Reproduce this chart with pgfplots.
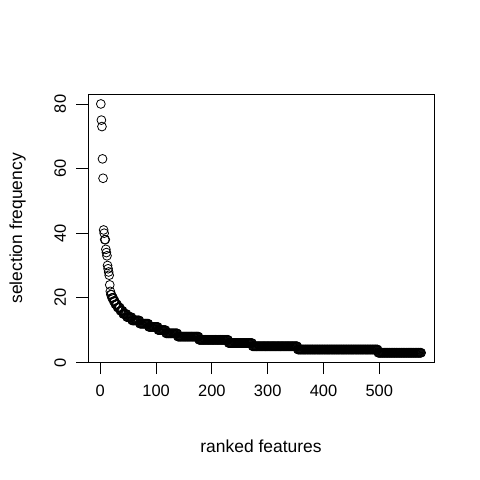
\documentclass[border=0pt]{standalone}
\usepackage{fontspec}
\setmainfont{Liberation Sans}
\usepackage{pgfplots}
\pgfplotsset{compat=1.18}

\begin{document}
\begin{tikzpicture}
\useasboundingbox (0,0) rectangle (480bp,480bp);
\begin{axis}[
  at={(88bp,117.3bp)}, anchor=south west,
  scale only axis,
  width=346bp, height=268.7bp,
  xmin=-22, xmax=598,
  ymin=-0.08, ymax=83.08,
  xtick={0,100,...,500},
  ytick={0,20,...,80},
  xtick pos=bottom, ytick pos=left,
  tick align=outside,
  major tick length=11.5bp,
  axis line style={line width=0.8bp},
  every tick/.style={black, line width=0.8bp},
  /pgf/number format/assume math mode=true,
  ticklabel style={font=\fontsize{16.5}{16.5}\selectfont, inner sep=0pt},
  xticklabel style={anchor=north},
  xticklabel shift=11bp,
  yticklabel style={rotate=90, anchor=base},
  yticklabel shift=10.5bp,
  xlabel={ranked features},
  ylabel={selection frequency},
  every axis x label/.style={at={([yshift=-90bp]axis description cs:0.5,0)}, anchor=base,
    font=\fontsize{17.5}{17.5}\selectfont, inner sep=0pt},
  every axis y label/.style={at={([xshift=-66bp]axis description cs:0,0.5)}, rotate=90, anchor=base,
    font=\fontsize{17.5}{17.5}\selectfont, inner sep=0pt},
]
\addplot[only marks, mark=o, mark size=4.4bp, mark options={line width=0.8bp, black}]
  table[row sep=\\, x expr=\coordindex+1, y=f] {
f\\
80\\ 75\\ 73\\ 63\\ 57\\ 41\\ 40\\ 38\\ 38\\ 35\\ 34\\ 33\\ 30\\ 29\\ 28\\ 27\\ 24\\ 22\\ 21\\ 21\\
20\\ 20\\ 20\\ 19\\ 19\\ 19\\ 18\\ 18\\ 18\\ 18\\ 17\\ 17\\ 17\\ 17\\ 17\\ 16\\ 16\\ 16\\ 16\\ 16\\
15\\ 15\\ 15\\ 15\\ 15\\ 15\\ 15\\ 14\\ 14\\ 14\\ 14\\ 14\\ 14\\ 14\\ 14\\ 14\\ 13\\ 13\\ 13\\ 13\\
13\\ 13\\ 13\\ 13\\ 13\\ 13\\ 13\\ 13\\ 13\\ 13\\ 12\\ 12\\ 12\\ 12\\ 12\\ 12\\ 12\\ 12\\ 12\\ 12\\
12\\ 12\\ 12\\ 12\\ 12\\ 12\\ 11\\ 11\\ 11\\ 11\\ 11\\ 11\\ 11\\ 11\\ 11\\ 11\\ 11\\ 11\\ 11\\ 11\\
11\\ 11\\ 11\\ 10\\ 10\\ 10\\ 10\\ 10\\ 10\\ 10\\ 10\\ 10\\ 10\\ 10\\ 10\\ 10\\ 10\\ 9\\ 9\\ 9\\
9\\ 9\\ 9\\ 9\\ 9\\ 9\\ 9\\ 9\\ 9\\ 9\\ 9\\ 9\\ 9\\ 9\\ 9\\ 9\\ 9\\ 9\\ 8\\ 8\\
8\\ 8\\ 8\\ 8\\ 8\\ 8\\ 8\\ 8\\ 8\\ 8\\ 8\\ 8\\ 8\\ 8\\ 8\\ 8\\ 8\\ 8\\ 8\\ 8\\
8\\ 8\\ 8\\ 8\\ 8\\ 8\\ 8\\ 8\\ 8\\ 8\\ 8\\ 8\\ 8\\ 8\\ 8\\ 8\\ 7\\ 7\\ 7\\ 7\\
7\\ 7\\ 7\\ 7\\ 7\\ 7\\ 7\\ 7\\ 7\\ 7\\ 7\\ 7\\ 7\\ 7\\ 7\\ 7\\ 7\\ 7\\ 7\\ 7\\
7\\ 7\\ 7\\ 7\\ 7\\ 7\\ 7\\ 7\\ 7\\ 7\\ 7\\ 7\\ 7\\ 7\\ 7\\ 7\\ 7\\ 7\\ 7\\ 7\\
7\\ 7\\ 7\\ 7\\ 7\\ 7\\ 7\\ 7\\ 7\\ 6\\ 6\\ 6\\ 6\\ 6\\ 6\\ 6\\ 6\\ 6\\ 6\\ 6\\
6\\ 6\\ 6\\ 6\\ 6\\ 6\\ 6\\ 6\\ 6\\ 6\\ 6\\ 6\\ 6\\ 6\\ 6\\ 6\\ 6\\ 6\\ 6\\ 6\\
6\\ 6\\ 6\\ 6\\ 6\\ 6\\ 6\\ 6\\ 6\\ 6\\ 6\\ 6\\ 5\\ 5\\ 5\\ 5\\ 5\\ 5\\ 5\\ 5\\
5\\ 5\\ 5\\ 5\\ 5\\ 5\\ 5\\ 5\\ 5\\ 5\\ 5\\ 5\\ 5\\ 5\\ 5\\ 5\\ 5\\ 5\\ 5\\ 5\\
5\\ 5\\ 5\\ 5\\ 5\\ 5\\ 5\\ 5\\ 5\\ 5\\ 5\\ 5\\ 5\\ 5\\ 5\\ 5\\ 5\\ 5\\ 5\\ 5\\
5\\ 5\\ 5\\ 5\\ 5\\ 5\\ 5\\ 5\\ 5\\ 5\\ 5\\ 5\\ 5\\ 5\\ 5\\ 5\\ 5\\ 5\\ 5\\ 5\\
5\\ 5\\ 5\\ 5\\ 5\\ 5\\ 5\\ 5\\ 5\\ 5\\ 5\\ 5\\ 5\\ 4\\ 4\\ 4\\ 4\\ 4\\ 4\\ 4\\
4\\ 4\\ 4\\ 4\\ 4\\ 4\\ 4\\ 4\\ 4\\ 4\\ 4\\ 4\\ 4\\ 4\\ 4\\ 4\\ 4\\ 4\\ 4\\ 4\\
4\\ 4\\ 4\\ 4\\ 4\\ 4\\ 4\\ 4\\ 4\\ 4\\ 4\\ 4\\ 4\\ 4\\ 4\\ 4\\ 4\\ 4\\ 4\\ 4\\
4\\ 4\\ 4\\ 4\\ 4\\ 4\\ 4\\ 4\\ 4\\ 4\\ 4\\ 4\\ 4\\ 4\\ 4\\ 4\\ 4\\ 4\\ 4\\ 4\\
4\\ 4\\ 4\\ 4\\ 4\\ 4\\ 4\\ 4\\ 4\\ 4\\ 4\\ 4\\ 4\\ 4\\ 4\\ 4\\ 4\\ 4\\ 4\\ 4\\
4\\ 4\\ 4\\ 4\\ 4\\ 4\\ 4\\ 4\\ 4\\ 4\\ 4\\ 4\\ 4\\ 4\\ 4\\ 4\\ 4\\ 4\\ 4\\ 4\\
4\\ 4\\ 4\\ 4\\ 4\\ 4\\ 4\\ 4\\ 4\\ 4\\ 4\\ 4\\ 4\\ 4\\ 4\\ 4\\ 4\\ 4\\ 4\\ 4\\
4\\ 4\\ 4\\ 4\\ 4\\ 4\\ 4\\ 4\\ 4\\ 4\\ 4\\ 4\\ 4\\ 4\\ 4\\ 4\\ 4\\ 3\\ 3\\ 3\\
3\\ 3\\ 3\\ 3\\ 3\\ 3\\ 3\\ 3\\ 3\\ 3\\ 3\\ 3\\ 3\\ 3\\ 3\\ 3\\ 3\\ 3\\ 3\\ 3\\
3\\ 3\\ 3\\ 3\\ 3\\ 3\\ 3\\ 3\\ 3\\ 3\\ 3\\ 3\\ 3\\ 3\\ 3\\ 3\\ 3\\ 3\\ 3\\ 3\\
3\\ 3\\ 3\\ 3\\ 3\\ 3\\ 3\\ 3\\ 3\\ 3\\ 3\\ 3\\ 3\\ 3\\ 3\\ 3\\ 3\\ 3\\ 3\\ 3\\
3\\ 3\\ 3\\ 3\\ 3\\ 3\\ 3\\ 3\\ 3\\ 3\\ 3\\ 3\\ 3\\ 3\\ 3\\
};
\end{axis}
\end{tikzpicture}
\end{document}
